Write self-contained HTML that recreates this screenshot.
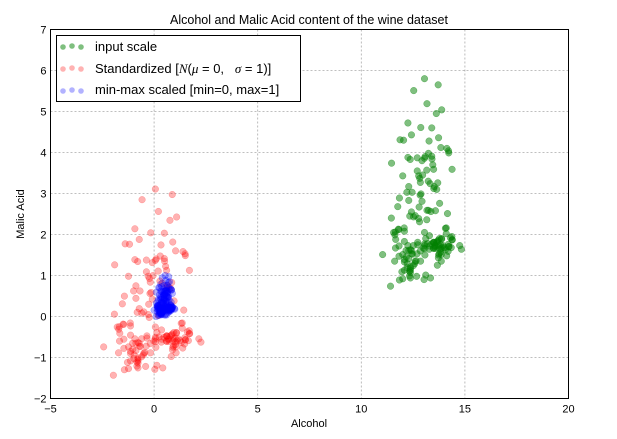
<!DOCTYPE html>
<html><head><meta charset="utf-8"><style>
html,body{margin:0;padding:0;background:#fff;}
svg{display:block;font-family:"Liberation Sans",sans-serif;}
</style></head><body>
<svg id="chart" width="617" height="439" viewBox="0 0 617 439" xmlns="http://www.w3.org/2000/svg">
<rect width="617" height="439" fill="#fff"/>
<text x="309" y="24" font-size="12.5" text-anchor="middle">Alcohol and Malic Acid content of the wine dataset</text>
<g id="grid"></g>
<g id="marks"></g>
<rect x="50.5" y="29.5" width="518" height="369" fill="none" stroke="#000" stroke-width="1"/>
<g id="ticks" font-size="11"></g>
<text x="309" y="427" font-size="11" text-anchor="middle">Alcohol</text>
<text transform="translate(24,214) rotate(-90)" font-size="11" text-anchor="middle">Malic Acid</text>
<g>
<rect x="56.5" y="35.5" width="244" height="66" fill="#fff" stroke="#000"/>
<g>
<circle cx="63" cy="47" r="2.8" fill="green" fill-opacity="0.5"/><circle cx="72" cy="46" r="2.8" fill="green" fill-opacity="0.5"/><circle cx="81" cy="47" r="2.8" fill="green" fill-opacity="0.5"/>
<text x="95" y="51" font-size="13">input scale</text></g>
<g>
<circle cx="63" cy="69" r="2.8" fill="red" fill-opacity="0.3"/><circle cx="72" cy="68" r="2.8" fill="red" fill-opacity="0.3"/><circle cx="81" cy="69" r="2.8" fill="red" fill-opacity="0.3"/>
<text x="95" y="73" font-size="13" xml:space="preserve">Standardized [<tspan font-family="Liberation Serif" font-style="italic">N</tspan>(<tspan font-family="Liberation Serif" font-style="italic">μ</tspan> = 0,   <tspan font-family="Liberation Serif" font-style="italic">σ</tspan> = 1)]</text></g>
<g>
<circle cx="63" cy="91" r="2.8" fill="blue" fill-opacity="0.3"/><circle cx="72" cy="90" r="2.8" fill="blue" fill-opacity="0.3"/><circle cx="81" cy="91" r="2.8" fill="blue" fill-opacity="0.3"/>
<text x="95" y="94" font-size="13">min-max scaled [min=0, max=1]</text></g>
</g>
</svg>
<script>
const xTicks=[-5,0,5,10,15,20];
const yTicks=[-2,-1,0,1,2,3,4,5,6,7];
const alcohol=[14.23,13.2,13.16,14.37,13.24,14.2,14.39,14.06,14.83,13.86,14.1,14.12,13.75,14.75,14.38,13.63,14.3,13.83,14.19,13.64,14.06,12.93,13.71,12.85,13.5,13.05,13.39,13.3,13.87,14.02,13.73,13.58,13.68,13.76,13.51,13.48,13.28,13.05,13.07,14.22,13.56,13.41,13.88,13.24,13.05,14.21,14.38,13.9,14.1,13.94,13.05,13.83,13.82,13.77,13.74,13.56,14.22,13.29,13.72,
12.37,12.33,12.64,13.67,12.37,12.17,12.37,13.11,12.37,13.34,12.21,12.29,13.86,13.49,12.99,11.96,11.66,13.03,11.84,12.33,12.7,12,12.72,12.08,13.05,11.84,12.67,12.16,11.65,11.64,12.08,12.08,12,12.69,12.29,11.62,12.47,11.81,12.29,12.37,12.29,12.08,12.6,12.34,11.82,12.51,12.42,12.25,12.72,12.22,11.61,11.46,12.52,11.76,11.41,12.08,11.03,11.82,12.42,12.77,12,11.45,11.56,12.42,13.05,11.87,12.07,12.43,11.79,12.37,12.04,
12.86,12.88,12.81,12.7,12.51,12.6,12.25,12.53,13.49,12.84,12.93,13.36,13.52,13.62,12.25,13.16,13.88,12.87,13.32,13.08,13.5,12.79,13.11,13.23,12.58,13.17,13.84,12.45,14.34,13.48,12.36,13.69,12.85,12.96,13.78,13.73,13.45,12.82,13.58,13.4,12.2,12.77,14.16,13.71,13.4,13.27,13.17,14.13];
const malicAcid=[1.71,1.78,2.36,1.95,2.59,1.76,1.87,2.15,1.64,1.35,2.16,1.48,1.73,1.73,1.87,1.81,1.92,1.57,1.59,3.1,1.63,3.8,1.86,1.6,1.81,2.05,1.77,1.72,1.9,1.68,1.5,1.66,1.83,1.53,1.8,1.81,1.64,1.65,1.5,3.99,1.71,3.84,1.89,3.98,1.77,4.04,3.59,1.68,2.02,1.73,1.73,1.65,1.75,1.9,1.67,1.73,1.7,1.97,1.43,
0.94,1.1,1.36,1.25,1.13,1.45,1.21,1.01,1.17,0.94,1.19,1.61,1.51,1.66,1.67,1.09,1.88,0.9,2.89,0.99,3.87,0.92,1.81,1.13,3.86,0.89,0.98,1.61,1.67,2.06,1.33,1.83,1.51,1.53,2.83,1.99,1.52,2.12,1.41,1.07,3.17,2.08,1.34,2.45,1.72,1.73,2.55,1.73,1.75,1.29,1.35,3.74,2.43,2.68,0.74,1.39,1.51,1.47,1.61,3.43,3.43,2.4,2.05,4.43,5.8,4.31,2.16,1.53,2.13,1.63,4.3,
1.35,2.99,2.31,3.55,1.24,2.46,4.72,5.51,3.59,2.96,2.81,2.56,3.17,4.95,3.88,3.57,5.04,4.61,3.24,3.9,3.12,2.67,1.9,3.3,1.29,5.19,4.12,3.03,1.68,1.67,3.83,3.26,3.27,3.45,2.76,4.36,3.7,3.37,2.58,4.6,3.03,2.39,2.51,5.65,3.91,4.28,2.59,4.1];

const NS="http://www.w3.org/2000/svg";
const L=50.5,R=568.5,T=29.5,B=398.5;
const xMin=-5,xMax=20,yMin=-2,yMax=7;
function sx(v){return L+(v-xMin)/(xMax-xMin)*(R-L);}
function sy(v){return B-(v-yMin)/(yMax-yMin)*(B-T);}
function mk(tag,attrs,parent){const e=document.createElementNS(NS,tag);for(const k in attrs)e.setAttribute(k,attrs[k]);parent.appendChild(e);return e;}

const grid=document.getElementById('grid'),ticks=document.getElementById('ticks'),marks=document.getElementById('marks');
xTicks.forEach(t=>{
  const x=sx(t);
  if(t>xMin&&t<xMax){const g=mk('line',{x1:x,x2:x,y1:T,y2:B,stroke:'#aaa','stroke-dasharray':'2,2','stroke-width':0.8},grid);
  
  }
  const tl=mk('text',{x:x,y:B+14,'text-anchor':'middle'},ticks);
  
  
  tl.textContent=String(t).replace('-','\u2212');
});
yTicks.forEach(t=>{
  const y=sy(t);
  if(t>yMin&&t<yMax){const g=mk('line',{x1:L,x2:R,y1:y,y2:y,stroke:'#aaa','stroke-dasharray':'2,2','stroke-width':0.8},grid);
  
  }
  const tl=mk('text',{x:L-4,y:y+4,'text-anchor':'end'},ticks);
  
  
  tl.textContent=String(t).replace('-','\u2212');
});

const n=Math.min(alcohol.length,malicAcid.length);
const a=alcohol.slice(0,n),m=malicAcid.slice(0,n);
const mean=v=>v.reduce((s,x)=>s+x,0)/v.length;
const sd=v=>{const mu=mean(v);return Math.sqrt(v.reduce((s,x)=>s+(x-mu)*(x-mu),0)/v.length);};
const aMu=mean(a),aSd=sd(a),mMu=mean(m),mSd=sd(m);
const aMin=Math.min(...a),aMax=Math.max(...a),mMin=Math.min(...m),mMax=Math.max(...m);

function series(xs,ys,color,op,name){
  const g=mk('g',{},marks);
  
  
  for(let i=0;i<xs.length;i++){
    const c=mk('circle',{cx:sx(xs[i]),cy:sy(ys[i]),r:3.3,fill:color,'fill-opacity':op,stroke:color,'stroke-opacity':op,'stroke-width':0.5},g);
    
    
  }
}
series(a,m,'green',0.5,'input-scale-series');
series(a.map(v=>(v-aMu)/aSd),m.map(v=>(v-mMu)/mSd),'red',0.3,'standardized-series');
series(a.map(v=>(v-aMin)/(aMax-aMin)),m.map(v=>(v-mMin)/(mMax-mMin)),'blue',0.3,'minmax-series');
</script>
</body></html>
